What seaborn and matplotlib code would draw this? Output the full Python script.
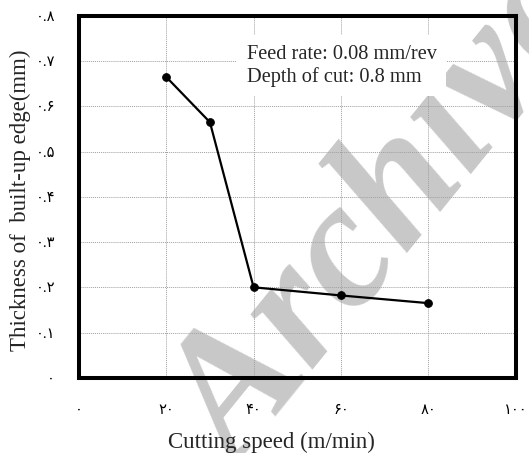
import matplotlib
matplotlib.use("Agg")
import matplotlib.pyplot as plt
import seaborn as sns
import pandas as pd

# Measured built-up edge thickness against cutting speed
cutting_speed = [20, 30, 40, 60, 80]
bue_thickness = [0.665, 0.565, 0.2, 0.182, 0.165]

x_ticks = [0, 20, 40, 60, 80, 100]
x_tick_labels = ["۰", "۲۰", "۴۰", "۶۰", "۸۰", "۱۰۰"]
y_ticks = [0, 0.1, 0.2, 0.3, 0.4, 0.5, 0.6, 0.7, 0.8]
y_tick_labels = ["۰", "۰.۱", "۰.۲", "۰.۳", "۰.۴", "۰.۵", "۰.۶", "۰.۷", "۰.۸"]

conditions = "Feed rate: 0.08 mm/rev\nDepth of cut: 0.8 mm"

sns.set_style("white")
plt.rcParams["font.family"] = ["Liberation Serif", "DejaVu Sans"]

df = pd.DataFrame({"speed": cutting_speed, "thickness": bue_thickness})

fig = plt.figure(figsize=(5.29, 4.53), dpi=100)
ax = fig.add_axes([0.149, 0.166, 0.826, 0.799])
ax.set_facecolor("none")

sns.lineplot(data=df, x="speed", y="thickness", ax=ax, color="black",
             linewidth=1.6, marker="o", markersize=5.5,
             markeredgecolor="black", markerfacecolor="black", zorder=5)

ax.set_xlim(0, 100)
ax.set_ylim(0, 0.8)
ax.set_xticks(x_ticks)
ax.set_xticklabels(x_tick_labels)
ax.set_yticks(y_ticks)
ax.set_yticklabels(y_tick_labels)

ax.grid(True, color="#a0a0a0", linestyle=(0, (1, 1)), linewidth=0.7)
ax.set_axisbelow(True)

for side in ax.spines.values():
    side.set_visible(True)
    side.set_color("black")
    side.set_linewidth(2.9)

ax.tick_params(axis="both", direction="out", length=4, width=0.6,
               color="#555555", labelsize=10.5, colors="black")
ax.tick_params(axis="x", pad=15)
ax.tick_params(axis="y", pad=13)

ax.set_xlabel("Cutting speed (m/min)", fontsize=16.5)
ax.xaxis.set_label_coords(0.44, -0.148)
ax.set_ylabel("Thickness of  built-up edge(mm)", fontsize=16.5)
ax.yaxis.set_label_coords(-0.11, 0.49)

ax.text(0.384, 0.92, conditions, transform=ax.transAxes, fontsize=14.7,
        va="top", ha="left", linespacing=1.2, zorder=4,
        bbox=dict(facecolor="white", edgecolor="none", pad=7))

# Grey repository stamp laid diagonally behind the plot
fig.text(0.733, 0.515, "Archive", fontsize=130, color="#c8c8c8",
         fontweight="bold", fontstyle="italic", rotation=51,
         ha="center", va="center", zorder=-1,
         family=["Liberation Serif", "DejaVu Serif"])

fig.savefig("out.png", dpi=100)
